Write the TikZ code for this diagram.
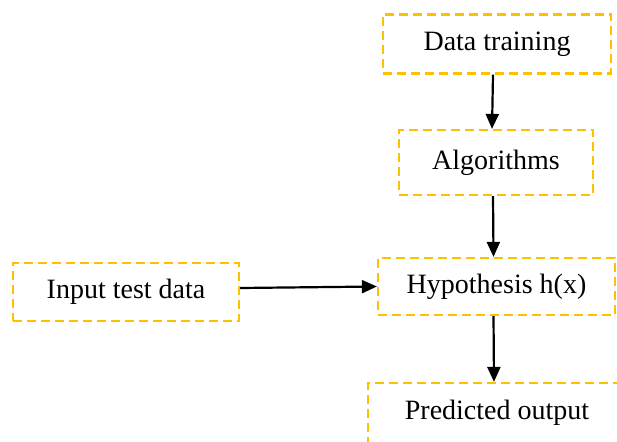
\documentclass[tikz,border=0pt]{standalone}
\usepackage{fontspec}
\setmainfont{Liberation Serif}
\usetikzlibrary{arrows.meta}
\definecolor{boxgold}{RGB}{255,192,0}

\tikzset{
  stage/.style={draw=boxgold, line width=2.2pt, dash pattern=on 9pt off 5pt,
    font=\fontsize{28}{33}\selectfont, inner sep=0pt},
  flow/.style={-{Triangle[length=15pt,width=13pt]}, line width=2.2pt}
}

\begin{document}
\begin{tikzpicture}[x=1pt,y=-1pt]
  \useasboundingbox (0,0) rectangle (617,441);
  \clip (0,0) rectangle (617,441);
  \node[stage, minimum width=228pt, minimum height=59pt] (train) at (497,44) {Data training};
  \node[stage, minimum width=194pt, minimum height=65pt] (algo) at (496,162.5) {Algorithms};
  \node[stage, minimum width=237pt, minimum height=57pt] (hyp) at (496.5,286.5) {Hypothesis h(x)};
  \node[stage, minimum width=226pt, minimum height=58pt] (input) at (126,292) {Input test data};
  \node[stage, minimum width=258pt, minimum height=60pt] (pred) at (497,413) {Predicted output};

  \draw[flow] ([xshift=-4pt]train.south) -- ([xshift=-4pt]algo.north);
  \draw[flow] ([xshift=-3pt]algo.south) -- ([xshift=-3pt]hyp.north);
  \draw[flow] (input.east |- 0,288) -- (hyp.west);
  \draw[flow] ([xshift=-3pt]hyp.south) -- ([xshift=-3pt]pred.north);
\end{tikzpicture}
\end{document}
